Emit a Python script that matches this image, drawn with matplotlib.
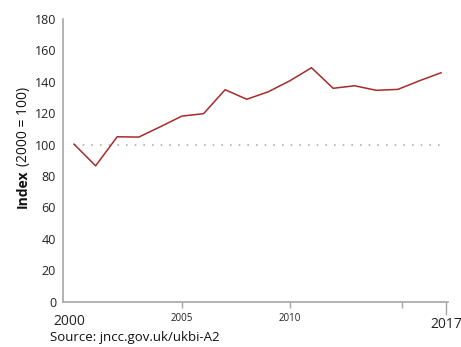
import matplotlib.pyplot as plt

plt.rcParams['font.family'] = ['Open Sans', 'DejaVu Sans']

years = list(range(2000, 2018))
index = [100.3, 86.5, 105.0, 104.8, 111.4, 118.2, 119.7, 135.0, 128.9,
         133.7, 140.7, 149.0, 135.9, 137.5, 134.6, 135.2, 140.7, 145.8]
baseline = 100

fig = plt.figure(figsize=(4.61, 3.47), dpi=100)
ax = fig.add_axes([0.1367, 0.131, 0.835, 0.814])

grey = '#a6a6a6'
ax.plot(years, [baseline] * len(years), color='#b0b0b0', lw=1.2,
        linestyle=(0, (1, 4.2)))
ax.plot(years, index, color='#a82a2a', lw=1.1)

ax.set_xlim(1999.49, 2017.32)
ax.set_ylim(0, 180)
ax.set_yticks(range(0, 181, 20))
ax.tick_params(axis='y', length=0, labelsize=9, pad=5, labelcolor='#222222')

# small ticks for 2005/2010/2015, a tall one at the end year
ax.set_xticks([2005, 2010, 2015.2])
ax.set_xticklabels(['2005', '2010', ''])
ax.tick_params(axis='x', length=4.5, width=1, color=grey, labelsize=7,
               pad=3.5, labelcolor='#222222')
ax.set_xticks([2017.24], minor=True)
ax.set_xticklabels(['2017'], minor=True)
ax.tick_params(axis='x', which='minor', length=9.5, width=1, color=grey,
               labelsize=10, pad=1.5, labelcolor='#222222')
ax.text(1999.77, -8, '2000', ha='center', va='top', fontsize=10,
        color='#222222', transform=ax.transData, clip_on=False)

for side in ('top', 'right'):
    ax.spines[side].set_visible(False)
for side in ('left', 'bottom'):
    ax.spines[side].set_color(grey)
    ax.spines[side].set_linewidth(1.2)

# y label: bold "Index" followed by the plain part, stacked upwards
lab1 = fig.text(0.05, 0.402, 'Index', rotation=90, ha='center', va='bottom',
                fontsize=10, fontweight='bold', color='#111111')
fig.canvas.draw()
bb = lab1.get_window_extent(fig.canvas.get_renderer())
top = bb.y1 / fig.bbox.height
fig.text(0.05, top + 0.008, '(2000 = 100)', rotation=90, ha='center',
         va='bottom', fontsize=10, color='#111111')

fig.text(0.108, 0.026, 'Source: jncc.gov.uk/ukbi-A2', ha='left', va='center',
         fontsize=9.5, color='#111111')

fig.savefig('out.png', dpi=100)
